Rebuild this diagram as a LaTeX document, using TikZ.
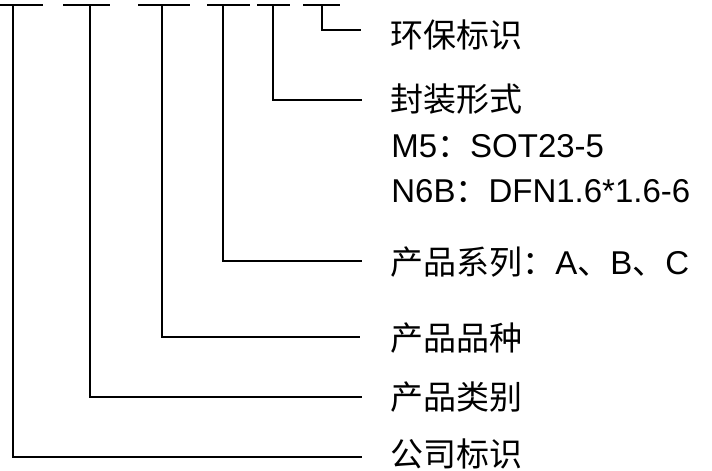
\documentclass[tikz,border=0pt]{standalone}
\usepackage{fontspec}
\setmainfont{Liberation Sans}
\newfontfamily\cjk{Noto Sans CJK SC}
\tikzset{lbl/.style={anchor=west,inner sep=0pt,font=\fontsize{33}{40}\selectfont}}
\begin{document}
\begin{tikzpicture}[x=1pt,y=-1pt,line width=2.7pt]
\useasboundingbox (0,0) rectangle (712,471);
% top bars
\draw (0,5)--(43,5);
\draw (63,5)--(110,5);
\draw (138,5)--(190,5);
\draw (207,5)--(250,5);
\draw (257,5)--(290,5);
\draw (303,5)--(340,5);
\coordinate (k1) at (13,5);
\coordinate (k2) at (90,5);
\coordinate (k3) at (162,5);
\coordinate (k4) at (223,5);
\coordinate (k5) at (273,5);
\coordinate (k6) at (322,5);
% labels
\node[lbl] (hbbs) at (389,35){\cjk 环保标识};
\node[lbl] (fzxs) at (389,99){\cjk 封装形式};
\node[lbl,anchor=base west] (mw) at (390,157){M5{\cjk ：}SOT23-5};
\node[lbl,anchor=base west] (nl) at (390,202){N6B{\cjk ：}DFN1.6*1.6-6};
\node[lbl] (cpxl) at (389,262){{\cjk 产品系列：}A{\cjk 、}B{\cjk 、}C};
\node[lbl] (cppz) at (389,338){\cjk 产品品种};
\node[lbl] (cplb) at (389,397){\cjk 产品类别};
\node[lbl] (gsbs) at (389,454){\cjk 公司标识};
% line ends
\coordinate (e6) at (361,30);
\coordinate (e5) at (362,100);
\coordinate (e4) at (362,261);
\coordinate (e3) at (360,337);
\coordinate (e2) at (362,397);
\coordinate (e1) at (362,457);
\draw (k6) |- (e6);
\draw (k5) |- (e5);
\draw (k4) |- (e4);
\draw (k3) |- (e3);
\draw (k2) |- (e2);
\draw (k1) |- (e1);
\end{tikzpicture}
\end{document}
